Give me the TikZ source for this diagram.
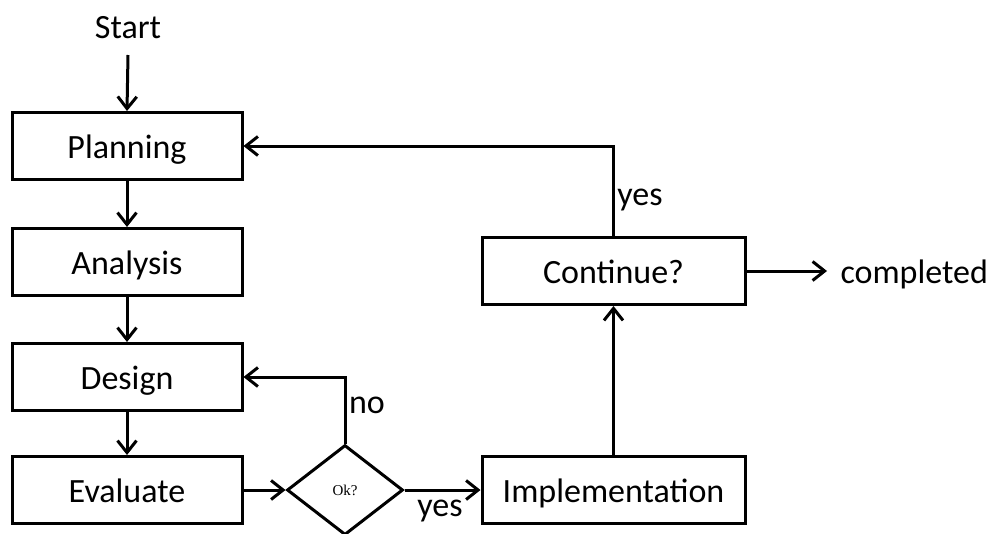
\documentclass[tikz,border=0pt]{standalone}
\usepackage{fontspec}
\setmainfont{Carlito}
\newfontfamily\smallserif{Liberation Serif}
\usetikzlibrary{arrows.meta,shapes.geometric}
\begin{document}
\begin{tikzpicture}[x=1pt,y=-1pt,
  line width=3pt,
  font=\fontsize{34}{40}\selectfont,
  box/.style={draw, rectangle, minimum width=230pt, minimum height=67pt, inner sep=0pt, text height=30pt, text depth=6pt},
  wbox/.style={draw, rectangle, minimum width=263pt, minimum height=67pt, inner sep=0pt, text height=30pt, text depth=6pt},
  dec/.style={draw, diamond, minimum width=116pt, minimum height=90pt, inner sep=0pt, shape aspect=1.29},
  lbl/.style={inner sep=0pt},
  arr/.style={-{Straight Barb[length=12pt,width=19pt,line width=3pt]}}]
\clip (0,0) rectangle (995,533);
\fill[white] (0,0) rectangle (995,533);
\node[lbl] (st) at (128,28) {Start};
\node[box] (pl) at (127,146) {Planning};
\node[box] (an) at (127,262) {Analysis};
\node[box] (de) at (127,377) {Design};
\node[box] (ev) at (127,490) {Evaluate};
\node[dec] (ok) at (345,490) {\smallserif\fontsize{15}{17}\selectfont Ok?};
\node[wbox] (im) at (613.5,490) {Implementation};
\node[wbox] (co) at (613.5,271) {Continue?};
\node[lbl, anchor=west] (cp) at (839,274) {completed};
\node[lbl] (yes1) at (440,511) {yes};
\node[lbl] (no1) at (367,405) {no};
\node[lbl] (yes2) at (640,200) {yes};
\coordinate (stb) at (128,55);
\coordinate (cpe) at (827,271);
\draw[arr] (stb) -- (pl.north);
\draw[arr] (pl) -- (an);
\draw[arr] (an) -- (de);
\draw[arr] (de) -- (ev);
\draw[arr] (ev) -- (ok);
\draw[arr] (ok) -- (im);
\draw[arr] (ok.north) |- (de.east);
\draw[arr] (im.north) -- (co.south);
\draw[arr] (co.north) |- (pl.east);
\draw[arr] (co.east) -- (cpe);
\end{tikzpicture}
\end{document}
